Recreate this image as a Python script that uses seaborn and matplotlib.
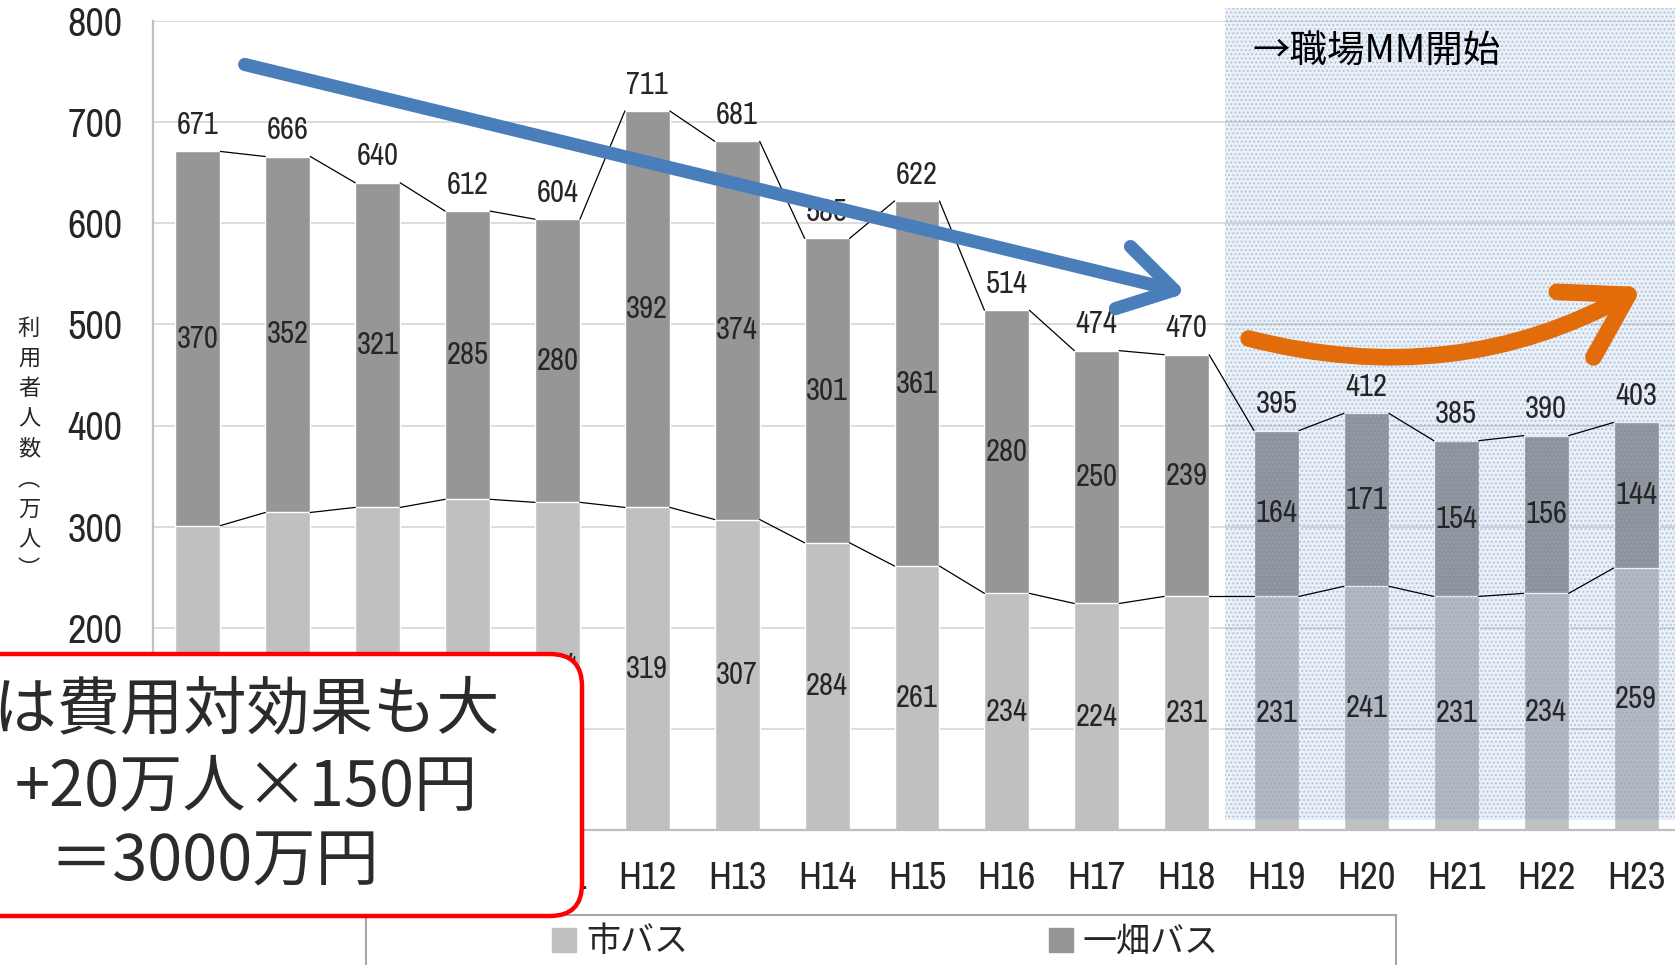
import matplotlib
matplotlib.use("Agg")
import matplotlib.pyplot as plt
import matplotlib.patches as mpatches
import matplotlib.transforms as mtransforms
from matplotlib import font_manager
import numpy as np
import pandas as pd
import seaborn as sns

years = ["H7", "H8", "H9", "H10", "H11", "H12", "H13", "H14", "H15",
         "H16", "H17", "H18", "H19", "H20", "H21", "H22", "H23"]
city_bus = [301, 314, 319, 327, 324, 319, 307, 284, 261, 234, 224, 231, 231, 241, 231, 234, 259]
ichibata_bus = [370, 352, 321, 285, 280, 392, 374, 301, 361, 280, 250, 239, 164, 171, 154, 156, 144]
y_ticks = [0, 100, 200, 300, 400, 500, 600, 700, 800]
series_names = ["市バス", "一畑バス"]

CITY_C = "#c0c0c0"
ICHI_C = "#969696"
JP_FONT = ["Noto Sans CJK JP", "DejaVu Sans"]


def narrow_font():
    # the source uses a narrow gothic for numbers; pick a condensed face if one exists
    cands = []
    for f in font_manager.fontManager.ttflist:
        st = str(f.stretch)
        if f.style != "normal" or f.weight not in (400, "normal", "regular", "book"):
            continue
        if "Narrow" in f.name or "Condensed" in f.name or st in ("condensed", "semi-condensed", "extra-condensed"):
            cands.append(f)
    if cands:
        cands.sort(key=lambda f: ("Narrow" not in f.name, f.name))
        return dict(fname=cands[0].fname), True
    return dict(family="Liberation Sans"), False


nf_kw, is_narrow = narrow_font()


def num_fp(size):
    return font_manager.FontProperties(size=size, **nf_kw)


df = pd.DataFrame({"year": years, "city": city_bus, "ichibata": ichibata_bus})
df["total"] = df["city"] + df["ichibata"]

sns.set_theme(style="white")
plt.rcParams["font.family"] = JP_FONT

W, H = 1675, 965
fig = plt.figure(figsize=(W / 100, H / 100), dpi=100)
ax = fig.add_axes([153 / W, 1 - 830 / H, (1681 - 153) / W, (830 - 21) / H])

# stacked bars: totals first, city bus on top of them
sns.barplot(data=df, x="year", y="total", order=years, color=ICHI_C,
            width=0.5, errorbar=None, saturation=1, ax=ax, zorder=1)
sns.barplot(data=df, x="year", y="city", order=years, color=CITY_C,
            width=0.5, errorbar=None, saturation=1, ax=ax, zorder=1)

ax.set_xlim(-0.5, len(years) - 0.5)
ax.set_ylim(0, 800)
ax.set_yticks(y_ticks)
ax.set_xlabel("")
ax.set_ylabel("")
ax.set_axisbelow(True)
ax.yaxis.grid(True, color="#d9d9d9", linewidth=1.3)
ax.xaxis.grid(False)

for s in ["top", "right"]:
    ax.spines[s].set_visible(False)
for s in ["left", "bottom"]:
    ax.spines[s].set_color("#bfbfbf")
    ax.spines[s].set_linewidth(1.6)

sz_scale = 1.0 if is_narrow else 0.85
ax.set_xticks(np.arange(-0.5, len(years), 1.0), minor=True)
ax.tick_params(axis="x", which="major", length=0, pad=22)
ax.tick_params(axis="x", which="minor", length=9, color="#bfbfbf", width=1.0, direction="out")
ax.tick_params(axis="y", length=6, color="#bfbfbf", width=1.0, direction="out", pad=16)
for lab in ax.get_xticklabels():
    lab.set_fontproperties(num_fp(28 * sz_scale))
for lab in ax.get_yticklabels():
    lab.set_fontproperties(num_fp(29 * sz_scale))

# series lines between neighbouring bars
half = 0.25
for col in ["total", "city"]:
    vals = df[col].to_numpy()
    for i in range(len(vals) - 1):
        ax.plot([i + half, i + 1 - half], [vals[i], vals[i + 1]],
                color="black", linewidth=0.9, zorder=2.6)

# data labels
lab_fp = num_fp(22 * sz_scale)
for i, row in df.iterrows():
    ax.annotate(f"{row['total']}", (i, row["total"]), xytext=(0, 9),
                textcoords="offset points", ha="center", va="bottom",
                fontproperties=lab_fp, zorder=4)
    ax.text(i, row["city"] + row["ichibata"] / 2, f"{row['ichibata']}",
            ha="center", va="center", fontproperties=lab_fp, zorder=4)
    ax.text(i, row["city"] / 2, f"{row['city']}",
            ha="center", va="center", fontproperties=lab_fp, zorder=4)

# shaded period after workplace MM start (dotted blue texture)
shade = mpatches.Rectangle((1225 / W, 1 - 820 / H), (W - 1225) / W + 0.01, (820 - 8) / H,
                           transform=fig.transFigure, clip_on=False,
                           facecolor=(0.33, 0.5, 0.73, 0.11),
                           edgecolor=(0.55, 0.66, 0.82, 0.55),
                           hatch="....", linewidth=0, zorder=2.5)
ax.add_patch(shade)
fig.text(1252 / W, 1 - 51 / H, "→職場MM開始", fontsize=27, family=JP_FONT,
         ha="left", va="center", color="black")

# trend arrows
ax.annotate("", xy=(11.0, 531), xytext=(0.52, 757),
            arrowprops=dict(arrowstyle="->,head_length=1.9,head_width=1.15",
                            mutation_scale=20, lw=9.5, color="#4a7ebb",
                            shrinkA=0, shrinkB=0, capstyle="round",
                            joinstyle="round"), zorder=6)
ax.annotate("", xy=(16.07, 537), xytext=(11.69, 486),
            arrowprops=dict(arrowstyle="->,head_length=2.2,head_width=1.35",
                            mutation_scale=20, lw=12, color="#e36c0a",
                            shrinkA=0, shrinkB=0,
                            connectionstyle="arc3,rad=0.2"), zorder=6)

# y axis label, vertical writing
ylab = "利用者人数︵万人︶"
fig.text(29 / W, 1 - 449 / H, "\n".join(ylab), fontsize=16, family=JP_FONT,
         ha="center", va="center", linespacing=1.4)

# legend with its frame running off the bottom
ident = mtransforms.IdentityTransform()
frame = mpatches.Rectangle((366, -20), 1030, 70, transform=ident, facecolor="white",
                           edgecolor="#a6a6a6", linewidth=1.5, zorder=4)
fig.add_artist(frame)
handles = [mpatches.Patch(color=CITY_C), mpatches.Patch(color=ICHI_C)]
leg = fig.legend(handles, series_names, loc="center left",
                 bbox_to_anchor=(552 / W, 23 / H), ncol=2, frameon=False,
                 fontsize=24.5, handlelength=0.7, handleheight=0.7,
                 handletextpad=0.3, columnspacing=10.6,
                 borderpad=0, borderaxespad=0)
leg.set_zorder(5)

# red callout box
box = mpatches.FancyBboxPatch((-40, 49), 622, 262, transform=ident,
                              boxstyle="round,pad=0,rounding_size=32",
                              facecolor="white", edgecolor="#ff0000",
                              linewidth=3.2, zorder=10)
fig.add_artist(box)
txt_kw = dict(fontsize=45.5, family=JP_FONT, color="#2b2b2b", zorder=11, va="center")
fig.text(500 / W, 1 - 710 / H, "MMは費用対効果も大", ha="right", **txt_kw)
fig.text(246 / W, 1 - 787 / H, "+20万人×150円", ha="center", **txt_kw)
fig.text(214 / W, 1 - 862 / H, "＝3000万円", ha="center", **txt_kw)

fig.savefig("out.png", dpi=100)
plt.close(fig)
